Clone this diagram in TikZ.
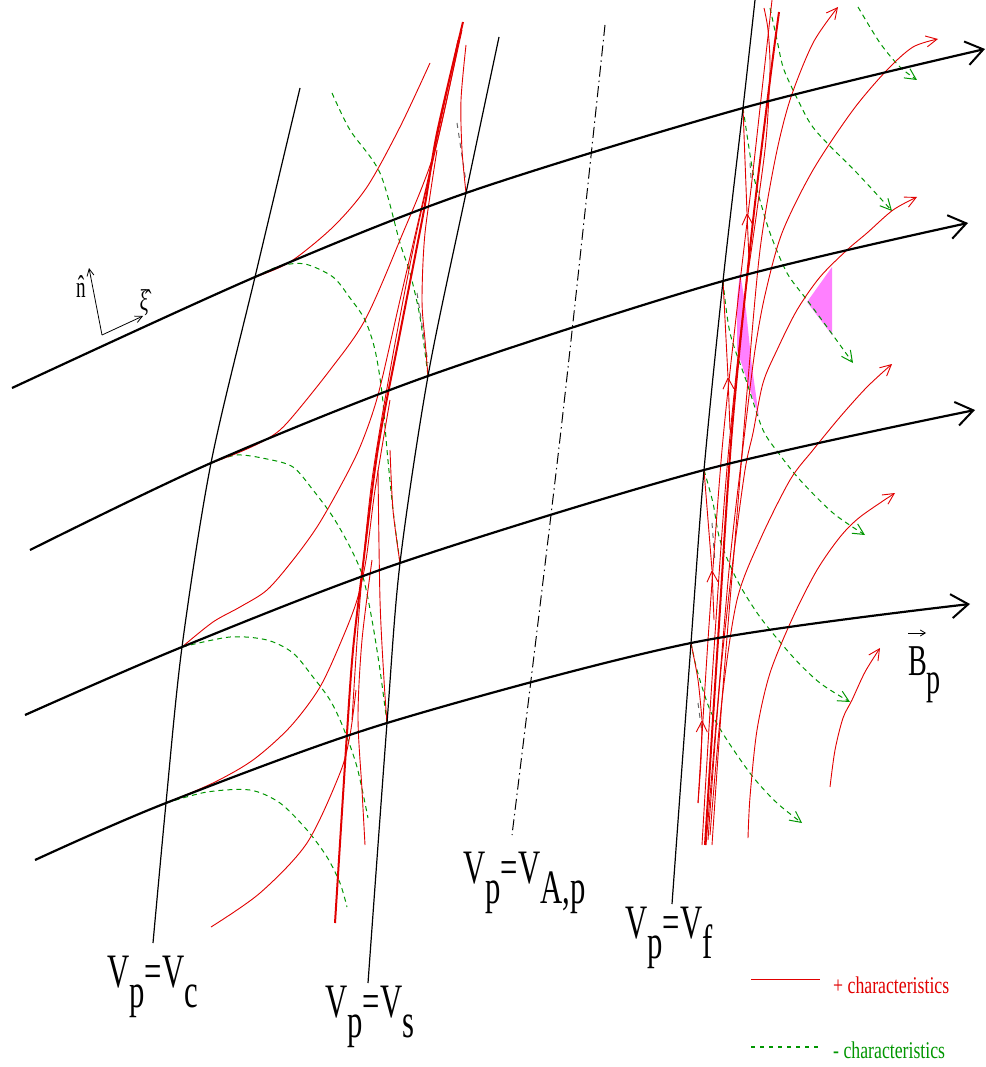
\documentclass[tikz,border=0pt]{standalone}
\usepackage{fontspec}
\setmainfont{Liberation Serif}
\newfontfamily\lblfont[FakeStretch=0.64]{Liberation Serif}
\newfontfamily\legfont[FakeStretch=0.74]{Liberation Serif}
\usetikzlibrary{arrows.meta}
\definecolor{plusred}{RGB}{225,0,0}
\definecolor{minusgreen}{RGB}{0,150,0}
\definecolor{fillpink}{RGB}{255,128,255}
\newcommand{\vlabel}[1]{\lblfont\fontsize{48}{48}\selectfont V\raisebox{-.42em}{p}=V\raisebox{-.42em}{#1}}
\begin{document}
\begin{tikzpicture}[x=1pt,y=-1pt,
  fieldline/.style={line width=2.2pt,-{Straight Barb[length=17pt,width=24pt,line width=2pt]}},
  vline/.style={line width=1.2pt},
  plus/.style={plusred,line width=0.9pt},
  minus/.style={minusgreen,line width=1pt,dash pattern=on 5pt off 4pt},
  tip/.style={-{Straight Barb[length=11pt,width=11pt]}},
  ghost/.style={black!60,line width=1pt,dash pattern=on 5pt off 5pt},
  hatlabel/.style={inner sep=0pt,font=\lblfont\fontsize{30}{30}\selectfont}]
\useasboundingbox (0,0) rectangle (985,1067);
\coordinate (c1) at (255,277);
\coordinate (c2) at (211,463);
\coordinate (c3) at (182,647);
\coordinate (c4) at (166,803);
\coordinate (s1) at (466,193);
\coordinate (s2) at (428,376);
\coordinate (s3) at (400,563);
\coordinate (s4) at (387,723);
\coordinate (f1) at (743,108);
\coordinate (f2) at (723,281);
\coordinate (f3) at (704,470);
\coordinate (f4) at (691,643);
\fill[fillpink] (740,272) -- (746,310) -- (752,367) -- (759,417) -- (737,350) -- (737,300) -- cycle;
\fill[fillpink] (832,267) -- (832,335) -- (807,302) -- cycle;
\draw[minus] plot[smooth] coordinates {(332,93) (350,130) (380,173) (400,243) (410,273) (420,317) (s2)};
\draw[minus] plot[smooth] coordinates {(c1) (280,266) (305,264) (333,277) (350,298) (365,320) (375,350) (382,393) (387,450) (393,510) (s3)};
\draw[minus] plot[smooth] coordinates {(c2) (237,455) (267,459) (293,467) (313,490) (333,517) (350,547) (363,577) (372,620) (380,670) (s4)};
\draw[minus] plot[smooth] coordinates {(c3) (230,637) (267,640) (293,653) (313,677) (330,700) (343,727) (357,767) (368,818)};
\draw[minus] plot[smooth] coordinates {(c4) (207,792) (250,790) (280,803) (307,830) (327,857) (340,883) (347,907)};
\draw[minus,tip] plot[smooth] coordinates {(858,7) (880,43) (900,67) (917,80)};
\draw[minus,tip] plot[smooth] coordinates {(770,8) (777,40) (783,67) (793,90) (810,123) (827,143) (857,173) (892,211)};
\draw[minus,tip] plot[smooth] coordinates {(f1) (752,167) (758,193) (770,233) (787,273) (807,300) (827,327) (853,363)};
\draw[minus,tip] plot[smooth] coordinates {(f2) (730,333) (747,383) (763,430) (780,455) (800,480) (833,513) (865,535)};
\draw[minus,tip] plot[smooth] coordinates {(f3) (713,503) (720,540) (737,580) (760,617) (793,657) (820,683) (850,702)};
\draw[minus,tip] plot[smooth] coordinates {(f4) (697,670) (710,710) (727,740) (753,777) (777,803) (802,823)};
\draw[ghost] (457,123) -- (466,182);
\draw[ghost] (417,293) -- (428,363);
\draw[ghost] (750,163) -- (752,192);
\draw[ghost] (712,523) -- (715,563);
\draw[ghost] (698,703) -- (702,733);
\draw[plus] plot[smooth] coordinates {(c1) (290,262) (333,227) (367,187) (400,127) (430,63)};
\draw[plus] plot[smooth] coordinates {(c2) (240,452) (267,439) (287,423) (330,370) (365,320) (400,240) (435,150) (462,25)};
\draw[plus] plot[smooth] coordinates {(c3) (213,622) (240,607) (267,590) (293,560) (317,527) (340,487) (360,447) (378,395) (400,300) (430,170) (458,40)};
\draw[plus] plot[smooth] coordinates {(c4) (213,783) (253,760) (290,727) (320,687) (343,637) (357,600) (366,560) (375,490) (390,400)};
\draw[plus] plot[smooth] coordinates {(211,927) (260,893) (307,843) (340,773) (350,735) (356,690)};
\draw[plus,line width=2pt] plot[smooth] coordinates {(463,22) (437,133) (424,210) (400,333) (378,448) (362,573) (353,650) (347,733) (335,923)};
\draw[plus] plot[smooth] coordinates {(462,30) (440,130) (415,240) (392,360) (372,480) (360,600) (352,720)};
\draw[plus] plot[smooth] coordinates {(466,45) (461,100) (462,150) (s1)};
\draw[plus] plot[smooth] coordinates {(437,150) (425,233) (422,300) (425,340) (s2)};
\draw[plus] plot[smooth] coordinates {(390,450) (393,510) (s3)};
\draw[plus] plot[smooth] coordinates {(378,470) (380,600) (384,680) (s4)};
\draw[plus] plot[smooth] coordinates {(372,560) (362,640) (358,717) (362,790) (365,845)};
\draw[plus,line width=2pt] plot[smooth] coordinates {(705,845) (718,640) (732,430) (752,230) (770,80) (779,12)};
\draw[plus] plot[smooth] coordinates {(702,845) (712,680) (726,480) (742,320) (757,210) (766,140) (770,70) (768,30) (764,8)};
\draw[plus] plot[smooth] coordinates {(698,803) (708,640) (722,450) (738,300) (752,180) (762,90) (772,0)};
\draw[plus,tip] plot[smooth] coordinates {(712,845) (722,700) (735,540) (748,380) (760,250) (775,160) (790,100) (813,43) (838,7)};
\draw[plus,tip] plot[smooth] coordinates {(706,845) (718,700) (730,560) (745,430) (755,350) (765,295) (782,233) (813,170) (853,110) (887,70) (913,47) (938,39)};
\draw[plus,tip] plot[smooth] coordinates {(708,840) (720,680) (733,560) (745,470) (753,433) (763,383) (777,350) (797,310) (820,277) (847,250) (867,233) (893,210) (917,197)};
\draw[plus,tip] plot[smooth] coordinates {(710,835) (722,700) (737,600) (760,540) (790,480) (813,450) (840,417) (867,387) (892,364)};
\draw[plus,tip] plot[smooth] coordinates {(748,838) (750,797) (757,730) (770,673) (793,617) (817,570) (840,537) (860,517) (895,493)};
\draw[plus,tip] plot[smooth] coordinates {(830,787) (835,750) (843,718) (852,700) (865,672) (880,648)};
\draw[plus,tip] (749,260) -- (747,213);
\draw[plus] (747,213) -- (f1);
\draw[plus,tip] (730,430) -- (728,377);
\draw[plus] (728,377) -- (f2);
\draw[plus,tip] (714,620) -- (712,570);
\draw[plus] (712,570) -- (f3);
\draw[plus,tip] plot[smooth] coordinates {(698,803) (701,760) (702,720)};
\draw[plus] plot[smooth] coordinates {(702,720) (698,680) (f4)};
\draw[vline] plot[smooth] coordinates {(300,88) (c1) (c2) (c3) (c4) (153,943)};
\draw[vline] plot[smooth] coordinates {(499,37) (s1) (s2) (s3) (s4) (368,983)};
\draw[vline] plot[smooth] coordinates {(755,0) (f1) (f2) (f3) (f4) (672,904)};
\draw[line width=1pt,dash pattern=on 11pt off 4pt on 1.5pt off 4pt] plot[smooth] coordinates {(605,25) (561,430) (512,835)};
\draw[fieldline] plot[smooth] coordinates {(12,388) (c1) (s1) (f1) (985,49)};
\draw[fieldline] plot[smooth] coordinates {(30,550) (c2) (s2) (f2) (968,223)};
\draw[fieldline] plot[smooth] coordinates {(25,715) (c3) (s3) (f3) (975,410)};
\draw[fieldline] plot[smooth] coordinates {(35,860) (c4) (s4) (f4) (970,604)};
\coordinate (o) at (102,335);
\coordinate (ntip) at (89,268);
\coordinate (xitip) at (143,316);
\draw[line width=.8pt,-{Straight Barb[length=7pt,width=7pt]}] (o) -- (ntip);
\draw[line width=.8pt,-{Straight Barb[length=7pt,width=7pt]}] (o) -- (xitip);
\node[hatlabel,anchor=base] (nhat) at (81,297) {\^{n}};
\node[hatlabel,anchor=base] (xihat) at (144,310) {\^{ξ}};
\node[anchor=base west, inner sep=0pt] (vc) at (107,987) {\vlabel{c}};
\node[anchor=base west, inner sep=0pt] (vs) at (325,1017) {\vlabel{s}};
\node[anchor=base west, inner sep=0pt] (va) at (463,883) {\vlabel{A,p}};
\node[anchor=base west, inner sep=0pt] (vf) at (625,938) {\vlabel{f}};
\node[anchor=base west, inner sep=0pt] (bp) at (908,675) {\lblfont\fontsize{44}{44}\selectfont B\raisebox{-.42em}{p}};
\coordinate (bv1) at (908,633);
\coordinate (bv2) at (926,633);
\draw[line width=.8pt,-{Straight Barb[length=5pt,width=6pt]}] (bv1) -- (bv2);
\coordinate (pl1) at (751,979);
\coordinate (pl2) at (820,979);
\coordinate (ml1) at (751,1047);
\coordinate (ml2) at (820,1047);
\draw[plus] (pl1) -- (pl2);
\draw[minus,line width=1.2pt,dash pattern=on 4pt off 5pt] (ml1) -- (ml2);
\node[anchor=base west, inner sep=0pt, text=plusred] (plustext) at (833,993) {\legfont\fontsize{24}{24}\selectfont + characteristics};
\node[anchor=base west, inner sep=0pt, text=minusgreen] (minustext) at (833,1058) {\legfont\fontsize{24}{24}\selectfont - characteristics};
\end{tikzpicture}
\end{document}
